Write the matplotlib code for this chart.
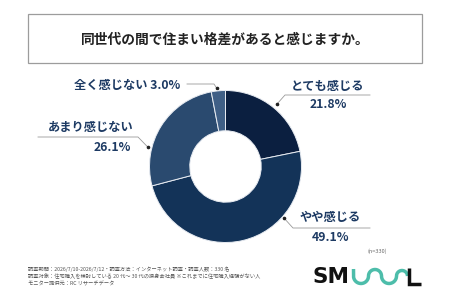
import numpy as np
import matplotlib.pyplot as plt
from matplotlib.patches import Rectangle

plt.rcParams['font.family'] = ['Noto Sans CJK JP', 'DejaVu Sans']

# data
title = "同世代の間で住まい格差があると感じますか。"
categories = ["とても感じる", "やや感じる", "あまり感じない", "全く感じない"]
values = [21.8, 49.1, 26.1, 3.0]
colors = ["#0b1f40", "#133358", "#2a4a6f", "#3f5f86"]
notes = [
    "調査期間：2026/7/10-2026/7/12・調査方法：インターネット調査・調査人数：330 名",
    "調査対象：住宅購入を検討している 20 代〜 30 代の独身会社員 ※これまでに住宅購入経験がない人",
    "モニター提供元：RC リサーチデータ",
]
n_text = "(n=330)"

navy = "#1d3a63"
W, H = 450, 300
fig = plt.figure(figsize=(4.5, 3), dpi=100)

# overlay in pixel coords
ov = fig.add_axes([0, 0, 1, 1])
ov.set_xlim(0, W)
ov.set_ylim(H, 0)
ov.axis("off")

# donut
cx, cy, R = 225.5, 166.5, 76
ax = fig.add_axes([(cx - R) / W, (H - cy - R) / H, 2 * R / W, 2 * R / H])
ax.pie(values, colors=colors, startangle=90, counterclock=False, radius=1,
       wedgeprops=dict(width=0.53, edgecolor="#e8ecf2", linewidth=0.7))
ax.set_xlim(-1, 1)
ax.set_ylim(-1, 1)
ax.set_aspect("auto")

# title box
ov.add_patch(Rectangle((28, 14), 394, 49, fill=False, edgecolor="#9c9c9c", lw=0.9))
ov.text(225, 39.5, title, ha="center", va="center", fontsize=9.9,
        fontweight="bold", color="#222222")


def dot_at(deg, r=80):
    a = np.deg2rad(90 - deg)
    return cx + r * np.cos(a), cy - r * np.sin(a)


lc = "#9a9a9a"
tk = dict(fontweight="bold", color=navy, fontsize=8.8)

# とても感じる
dx, dy = dot_at(39.5, 81)
ov.plot([dx, 285, 370], [dy, 95, 95], color=lc, lw=0.6)
ov.plot(dx, dy, "o", color="#222", ms=1.6)
ov.text(328, 86.5, categories[0], ha="center", va="center", **tk)
ov.text(328, 105, f"{values[0]}%", ha="center", va="center", **tk)

# やや感じる
dx, dy = dot_at(131.4, 78)
ov.plot([dx, 293, 370], [dy, 228, 228], color=lc, lw=0.6)
ov.plot(dx, dy, "o", color="#222", ms=1.6)
ov.text(330, 218, categories[1], ha="center", va="center", **tk)
ov.text(330, 237.5, f"{values[1]}%", ha="center", va="center", **tk)

# あまり感じない
dx, dy = dot_at(284, 80)
ov.plot([38, 138, dx], [137, 137, dy], color=lc, lw=0.6)
ov.plot(dx, dy, "o", color="#222", ms=1.6)
ov.text(91, 127.5, categories[2], ha="center", va="center", **tk)
ov.text(112, 147.5, f"{values[2]}%", ha="center", va="center", **tk)

# 全く感じない
dx, dy = dot_at(353.5, 79)
ov.plot([187, 214, dx], [84, 84, dy], color=lc, lw=0.6)
ov.plot(dx, dy, "o", color="#222", ms=1.6)
ov.text(127, 85, f"{categories[3]} {values[3]}%", ha="center", va="center", **tk)

# footer
ov.text(368, 251, n_text, ha="left", va="center", fontsize=4.0, color="#666666")
for i, line in enumerate(notes):
    ov.text(28, 269 + i * 7.2, line, ha="left", va="center", fontsize=3.75, color="#555555")

# logo
ov.text(312, 277, "SM", ha="left", va="center", fontsize=15.5, fontweight="bold",
        color="#111111", family=["DejaVu Sans"])
teal = "#4dbdaa"
yc = 276
xs, ys = [353.5], [269]
x = 353.5
for k, r in enumerate([7.5, 6.5, 7.5, 5.5]):
    t = np.linspace(0, np.pi, 40)
    if k % 2 == 0:  # U
        xs += list(x + r - r * np.cos(t))
        ys += list(yc + r * np.sin(t))
    else:  # arch
        xs += list(x + r - r * np.cos(t))
        ys += list(yc - r * np.sin(t))
    x += 2 * r
ov.plot(xs, ys, color=teal, lw=2.5, solid_capstyle="butt")
ov.plot([409, 409, 421], [268, 284, 284], color="#111111", lw=2.5,
        solid_joinstyle="miter", solid_capstyle="butt")

plt.savefig("out.png", dpi=100)
